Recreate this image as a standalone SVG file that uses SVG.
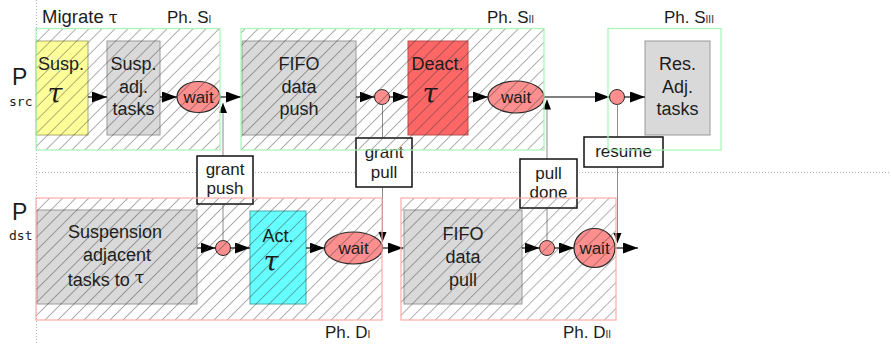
<svg xmlns="http://www.w3.org/2000/svg" width="891" height="345" viewBox="0 0 891 345">
  <style>
    text { font-family: "Liberation Sans", Arial, sans-serif; fill: #1c1c1c; }
    .lbl { font-size: 18px; text-anchor: middle; }
    .box-t { font-size: 17px; text-anchor: middle; }
    .tau { font-family: "DejaVu Serif", "Liberation Serif", serif; font-style: italic; font-size: 27px; text-anchor: middle; }
    .ph { font-size: 17px; }
    .ph-n { font-size: 10px; }
    .proc { font-size: 23px; }
    .sub { font-family: "DejaVu Sans Mono", "Liberation Mono", monospace; font-size: 13px; }
    .grey { fill: #d9d9d9; stroke: #9a9a9a; stroke-width: 1; }
    .wait { fill: #ff8f8f; stroke: #2a2a2a; stroke-width: 1.2; }
    .dot { fill: #ff8f8f; stroke: #2a2a2a; stroke-width: 1; }
    .flow { stroke: #000; stroke-width: 1.1; fill: none; marker-end: url(#arrow); }
    .sig { stroke: #8c8c8c; stroke-width: 1; fill: none; marker-end: url(#tick); }
    .sigbox { fill: #fff; stroke: #111; stroke-width: 1.5; }
    .guide { stroke: #b5b5b5; stroke-width: 1; stroke-dasharray: 1 2; fill: none; }
    .src-ph { fill: url(#hatch); stroke: #a6f5b4; stroke-width: 1.2; }
    .dst-ph { fill: url(#hatch); stroke: #ffaaaa; stroke-width: 1.2; }
  </style>
  <defs>
    <pattern id="hatch" patternUnits="userSpaceOnUse" width="9.2" height="9.2" patternTransform="rotate(45)">
      <line x1="0" y1="0" x2="0" y2="9.2" stroke="#3a3a3a" stroke-width="0.8"/>
    </pattern>
    <marker id="arrow" markerUnits="userSpaceOnUse" markerWidth="16" markerHeight="12" refX="15" refY="5.5" orient="auto">
      <path d="M0,0 L15,5.5 L0,11 Z" fill="#000"/>
    </marker>
    <marker id="tick" markerUnits="userSpaceOnUse" markerWidth="11" markerHeight="9" refX="10" refY="4" orient="auto">
      <path d="M0,0 L10,4 L0,8 Z" fill="#000"/>
    </marker>
  </defs>

  <!-- process separators -->
  <line class="guide" x1="36.5" y1="0" x2="36.5" y2="345"/>
  <line class="guide" x1="36" y1="172.5" x2="891" y2="172.5"/>

  <!-- process names and titles -->
  <text class="proc" x="12" y="85">P</text>
  <text class="sub" x="9" y="106">src</text>
  <text class="proc" x="12" y="220">P</text>
  <text class="sub" x="9" y="240">dst</text>
  <text x="42" y="23" font-size="18.5">Migrate <tspan font-family="'DejaVu Serif', serif" font-size="16">τ</tspan></text>

  <!-- source side -->
  <g id="susp-tau">
    <rect x="36" y="41" width="52" height="94" fill="#ffff99" stroke="#a8a870"/>
    <text class="lbl" x="61" y="70">Susp.</text>
    <text class="tau" x="55" y="103">τ</text>
  </g>
  <g id="susp-adj">
    <rect class="grey" x="107" y="41" width="53" height="94"/>
    <text class="lbl" x="133.5" y="70">Susp.</text>
    <text class="lbl" x="133.5" y="92.5">adj.</text>
    <text class="lbl" x="133.5" y="115">tasks</text>
  </g>
  <g id="wait-s1">
    <ellipse class="wait" cx="198.5" cy="97" rx="21.5" ry="15.5"/>
    <text class="box-t" x="198.5" y="103">wait</text>
  </g>
  <g id="fifo-push">
    <rect class="grey" x="242" y="41" width="114" height="94"/>
    <text class="lbl" x="299" y="70">FIFO</text>
    <text class="lbl" x="299" y="92.5">data</text>
    <text class="lbl" x="299" y="115">push</text>
  </g>
  <g id="join-pull">
    <circle class="dot" cx="382" cy="97" r="7.5"/>
  </g>
  <g id="deact-tau">
    <rect x="408" y="41" width="60" height="94" fill="#ff6666" stroke="#b85050"/>
    <text class="lbl" x="437.5" y="70">Deact.</text>
    <text class="tau" x="430" y="103">τ</text>
  </g>
  <g id="wait-s2">
    <ellipse class="wait" cx="516" cy="97" rx="28" ry="16"/>
    <text class="box-t" x="516" y="103">wait</text>
  </g>
  <g id="join-resume">
    <circle class="dot" cx="617" cy="97" r="7.5"/>
  </g>
  <g id="res-adj">
    <rect class="grey" x="645" y="41" width="65" height="94"/>
    <text class="lbl" x="677.5" y="70">Res.</text>
    <text class="lbl" x="677.5" y="92.5">Adj.</text>
    <text class="lbl" x="677.5" y="115">tasks</text>
  </g>

  <!-- destination side -->
  <g id="susp-adj-dst">
    <rect class="grey" x="37" y="210" width="160" height="94"/>
    <text class="lbl" x="115" y="238">Suspension</text>
    <text class="lbl" x="117" y="261">adjacent</text>
    <text class="lbl" x="106" y="286">tasks to <tspan font-family="'DejaVu Serif', serif" font-size="17" dy="-3">τ</tspan></text>
  </g>
  <g id="join-push">
    <circle class="dot" cx="223" cy="248" r="7.5"/>
  </g>
  <g id="act-tau">
    <rect x="250" y="211" width="56" height="93" fill="#66ffff" stroke="#4aa8a8"/>
    <text class="lbl" x="278" y="242">Act.</text>
    <text class="tau" x="271" y="271">τ</text>
  </g>
  <g id="wait-d1">
    <ellipse class="wait" cx="353.5" cy="248" rx="29" ry="16"/>
    <text class="box-t" x="353.5" y="254">wait</text>
  </g>
  <g id="fifo-pull">
    <rect class="grey" x="404" y="210" width="118" height="94"/>
    <text class="lbl" x="463" y="240">FIFO</text>
    <text class="lbl" x="463" y="263">data</text>
    <text class="lbl" x="463" y="286">pull</text>
  </g>
  <g id="join-done">
    <circle class="dot" cx="547" cy="248" r="7.5"/>
  </g>
  <g id="wait-d2">
    <ellipse class="wait" cx="594.5" cy="248" rx="20.5" ry="19.5"/>
    <text class="box-t" x="594.5" y="254">wait</text>
  </g>

  <!-- connectors -->
  <g id="connectors">
    <line class="flow" x1="88" y1="97" x2="107" y2="97"/>
    <line class="flow" x1="160" y1="97" x2="177" y2="97"/>
    <line class="flow" x1="220" y1="97" x2="241" y2="97"/>
    <line class="flow" x1="356" y1="97" x2="374.5" y2="97"/>
    <line class="flow" x1="389.5" y1="97" x2="408" y2="97"/>
    <line class="flow" x1="468" y1="97" x2="488" y2="97"/>
    <line class="flow" x1="544" y1="97" x2="609.5" y2="97"/>
    <line class="flow" x1="624.5" y1="97" x2="645" y2="97"/>

    <line class="flow" x1="197" y1="248" x2="215.5" y2="248"/>
    <line class="flow" x1="230.5" y1="248" x2="250" y2="248"/>
    <line class="flow" x1="306" y1="248" x2="324.5" y2="248"/>
    <line class="flow" x1="382.5" y1="248" x2="403" y2="248"/>
    <line class="flow" x1="522" y1="248" x2="539.5" y2="248"/>
    <line class="flow" x1="554.5" y1="248" x2="574" y2="248"/>
    <line class="flow" x1="615" y1="248" x2="638" y2="248"/>

    <line class="sig" x1="223" y1="240.5" x2="223" y2="103"/>
    <line class="sig" x1="382.5" y1="104.5" x2="382.5" y2="242"/>
    <line class="sig" x1="547" y1="240.5" x2="547" y2="99.5"/>
    <line class="sig" x1="617.5" y1="104.5" x2="617.5" y2="243"/>
  </g>

  <!-- signal labels -->
  <g id="grant-push">
    <rect class="sigbox" x="197" y="156" width="56" height="48"/>
    <text class="box-t" x="225" y="175">grant</text>
    <text class="box-t" x="225" y="194">push</text>
  </g>
  <g id="grant-pull">
    <rect class="sigbox" x="356" y="138" width="56" height="49"/>
    <text class="box-t" x="384" y="158">grant</text>
    <text class="box-t" x="384" y="178">pull</text>
  </g>
  <g id="pull-done">
    <rect class="sigbox" x="520" y="159" width="57" height="49"/>
    <text class="box-t" x="548.5" y="179">pull</text>
    <text class="box-t" x="548.5" y="198">done</text>
  </g>
  <g id="resume">
    <rect class="sigbox" x="584" y="137" width="79" height="30"/>
    <text class="box-t" x="623.5" y="157">resume</text>
  </g>

  <!-- phase frames -->
  <g id="phase-s1">
    <rect class="src-ph" x="36" y="28.5" width="184" height="121.5"/>
    <text class="ph" x="167" y="23">Ph. S<tspan class="ph-n">I</tspan></text>
  </g>
  <g id="phase-s2">
    <rect class="src-ph" x="241" y="28.5" width="303" height="121.5"/>
    <text class="ph" x="487" y="23">Ph. S<tspan class="ph-n">II</tspan></text>
  </g>
  <g id="phase-s3">
    <rect x="608" y="28.5" width="113" height="121.5" fill="none" stroke="#a6f5b4" stroke-width="1.2"/>
    <text class="ph" x="664" y="23">Ph. S<tspan class="ph-n">III</tspan></text>
  </g>
  <g id="phase-d1">
    <rect class="dst-ph" x="36" y="198" width="346" height="122"/>
    <text class="ph" x="325" y="338">Ph. D<tspan class="ph-n">I</tspan></text>
  </g>
  <g id="phase-d2">
    <rect class="dst-ph" x="401" y="198" width="215" height="122"/>
    <text class="ph" x="563" y="338">Ph. D<tspan class="ph-n">II</tspan></text>
  </g>
</svg>
